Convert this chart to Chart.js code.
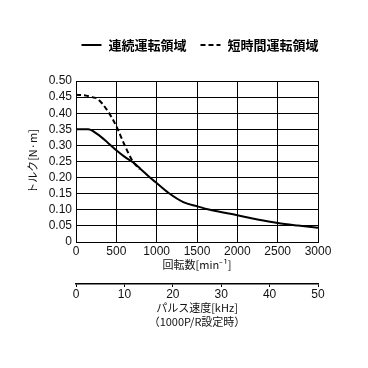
<!DOCTYPE html>
<html>
<head>
<meta charset="utf-8">
<script src="https://cdn.jsdelivr.net/npm/chart.js@4/dist/chart.umd.min.js"></script>
<style>
html, body { margin: 0; padding: 0; background: #fff; }
canvas { display: block; }
</style>
</head>
<body>
<canvas id="chart" width="368" height="368"></canvas>
<script>
// continuous operation region (rpm / torque N·m)
var contRpm = [0, 150, 265, 400, 500, 600, 710, 800, 917, 1000, 1145, 1330, 1500, 1660, 2000, 2250, 2500, 2750, 3000];
var contTorque = [0.35, 0.35, 0.335, 0.307, 0.285, 0.265, 0.247, 0.227, 0.2, 0.183, 0.153, 0.124, 0.111, 0.1, 0.083, 0.07, 0.059, 0.051, 0.044];

// short-time operation region
var shortRpm = [0, 100, 200, 265, 390, 500, 595, 700, 790];
var shortTorque = [0.457, 0.456, 0.45, 0.445, 0.408, 0.36, 0.305, 0.252, 0.226];

var seriesNames = ['連続運転領域', '短時間運転領域'];
var rpmTicks = [0, 500, 1000, 1500, 2000, 2500, 3000];
var torqueTicks = [0, 0.05, 0.1, 0.15, 0.2, 0.25, 0.3, 0.35, 0.4, 0.45, 0.5];
var pulseTicks = [0, 10, 20, 30, 40, 50];

var numFont = "'Liberation Sans', 'Noto Sans CJK JP', sans-serif";
var jpFont = "'Noto Sans CJK JP', 'Liberation Sans', sans-serif";

function toPoints(xs, ys) {
	var pts = [];
	for (var i = 0; i < xs.length; i++) {
		pts.push({ x: xs[i], y: ys[i] });
	}
	return pts;
}

// put ticks exactly at the listed values
function fixedTicks(values) {
	return function(scale) {
		scale.ticks = values.map(function(v) { return { value: v }; });
	};
}

// legend drawn on one row above the plot, built from the dataset styles
var lineLegend = {
	id: 'lineLegend',
	afterDraw: function(chart) {
		var ctx = chart.ctx;
		var area = chart.chartArea;
		var lineLen = 20, textGap = 7, itemGap = 14;
		var y = area.top - 36;
		ctx.save();
		ctx.font = 'bold 13px ' + jpFont;
		ctx.textBaseline = 'middle';
		ctx.fillStyle = '#000';
		var sets = chart.data.datasets;
		var total = 0;
		for (var i = 0; i < sets.length; i++) {
			total += lineLen + textGap + ctx.measureText(sets[i].label).width;
			if (i > 0) total += itemGap;
		}
		var x = (area.left + area.right) / 2 + 3 - total / 2;
		for (var i = 0; i < sets.length; i++) {
			ctx.beginPath();
			ctx.setLineDash(sets[i].borderDash || []);
			ctx.lineWidth = sets[i].borderWidth;
			ctx.strokeStyle = sets[i].borderColor;
			ctx.moveTo(x, y);
			ctx.lineTo(x + lineLen, y);
			ctx.stroke();
			x += lineLen + textGap;
			ctx.fillText(sets[i].label, x, y);
			x += ctx.measureText(sets[i].label).width + itemGap;
		}
		ctx.restore();
	}
};

new Chart(document.getElementById('chart'), {
	type: 'line',
	data: {
		datasets: [{
			label: seriesNames[0],
			data: toPoints(contRpm, contTorque),
			borderColor: '#000',
			borderWidth: 2,
			pointRadius: 0,
			cubicInterpolationMode: 'monotone',
			fill: false
		}, {
			label: seriesNames[1],
			data: toPoints(shortRpm, shortTorque),
			borderColor: '#000',
			borderWidth: 2,
			borderDash: [5, 3],
			pointRadius: 0,
			cubicInterpolationMode: 'monotone',
			fill: false
		}]
	},
	options: {
		responsive: false,
		animation: false,
		devicePixelRatio: 1,
		layout: { padding: { top: 81, left: 0, right: 50, bottom: 0 } },
		plugins: {
			tooltip: { enabled: false },
			legend: { display: false }
		},
		scales: {
			x: {
				type: 'linear',
				position: 'bottom',
				weight: 0,
				min: rpmTicks[0],
				max: rpmTicks[rpmTicks.length - 1],
				afterBuildTicks: fixedTicks(rpmTicks),
				ticks: {
					autoSkip: false,
					padding: 2.5,
					color: '#111',
					font: { family: numFont, size: 12 },
					callback: function(v) { return String(v); }
				},
				grid: { color: '#000', lineWidth: 1, drawTicks: false },
				border: { color: '#000', width: 1 },
				title: {
					display: true,
					text: '回転数[min⁻¹]',
					color: '#111',
					font: { family: jpFont, size: 11 },
					padding: { top: 0, bottom: 12.4 }
				},
				afterFit: function(scale) { scale.height = 42; }
			},
			x2: {
				type: 'linear',
				position: 'bottom',
				weight: 1,
				min: pulseTicks[0],
				max: pulseTicks[pulseTicks.length - 1],
				afterBuildTicks: fixedTicks(pulseTicks),
				ticks: {
					autoSkip: false,
					padding: 0,
					color: '#111',
					font: { family: numFont, size: 12 },
					callback: function(v) { return String(v); }
				},
				grid: { color: '#000', lineWidth: 1, drawOnChartArea: false, tickLength: 3 },
				border: { color: '#000', width: 1.5 },
				title: {
					display: true,
					text: ['パルス速度[kHz]', '（1000P/R設定時）'],
					color: '#111',
					font: { family: jpFont, size: 11, lineHeight: '14px' },
					padding: { top: 0, bottom: 39.3 }
				},
				afterFit: function(scale) { scale.height = 84; }
			},
			y: {
				type: 'linear',
				min: torqueTicks[0],
				max: torqueTicks[torqueTicks.length - 1],
				afterBuildTicks: fixedTicks(torqueTicks),
				ticks: {
					autoSkip: false,
					padding: 4,
					color: '#111',
					font: { family: numFont, size: 12 },
					callback: function(v) { return v === 0 ? '0' : v.toFixed(2); }
				},
				grid: { color: '#000', lineWidth: 1, drawTicks: false },
				border: { color: '#000', width: 1 },
				title: {
					display: true,
					text: 'トルク[N·m]',
					color: '#111',
					font: { family: jpFont, size: 11 },
					padding: { top: 26.4, bottom: 0 }
				},
				afterFit: function(scale) { scale.width = 76; }
			}
		}
	},
	plugins: [lineLegend]
});
</script>
</body>
</html>
